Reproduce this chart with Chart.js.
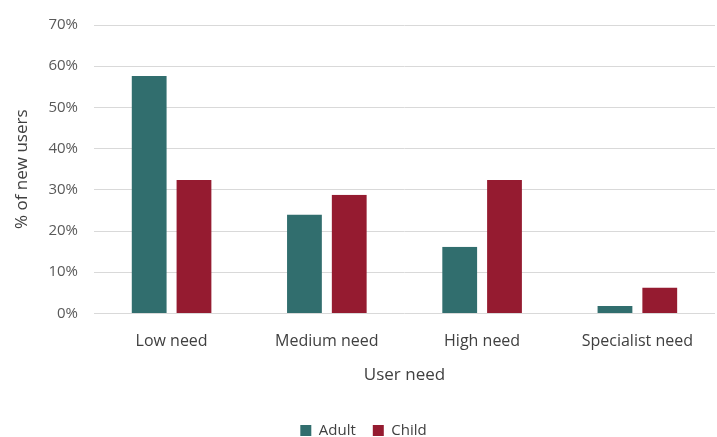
<!DOCTYPE html>
<html>
<head>
<meta charset="utf-8">
<script src="https://cdn.jsdelivr.net/npm/chart.js@4"></script>
<style>
  html, body { margin: 0; padding: 0; background: #fff; }
  #wrap { width: 717px; height: 437px; }
</style>
</head>
<body>
<div id="wrap"><canvas id="grafica_necesidad"></canvas></div>
<script>
const categories = ['Low need', 'Medium need', 'High need', 'Specialist need'];
const adult = [57.6, 24.0, 16.2, 1.8];
const child = [32.4, 28.8, 32.4, 6.3];
const yTicks = [0, 10, 20, 30, 40, 50, 60, 70];

const fontFamily = '"Open Sans", sans-serif';

const ctx = document.getElementById('grafica_necesidad').getContext('2d');
new Chart(ctx, {
  type: 'bar',
  data: {
    labels: categories,
    datasets: [{
      label: 'Adult',
      data: adult,
      backgroundColor: '#316E6E',
      borderColor: 'rgba(0,0,0,0)',
      borderWidth: { left: 5, right: 5, top: 0, bottom: 0 },
      borderSkipped: false
    }, {
      label: 'Child',
      data: child,
      backgroundColor: '#951B30',
      borderColor: 'rgba(0,0,0,0)',
      borderWidth: { left: 5, right: 5, top: 0, bottom: 0 },
      borderSkipped: false
    }]
  },
  options: {
    responsive: true,
    maintainAspectRatio: false,
    animation: false,
    datasets: {
      bar: { barPercentage: 1.0, categoryPercentage: 0.577 }
    },
    layout: { padding: { top: 16, right: 2, left: 12, bottom: -11 } },
    scales: {
      x: {
        grid: { display: false, drawTicks: false },
        border: { display: false },
        ticks: { color: '#404040', font: { family: fontFamily, size: 16 }, padding: 18 },
        title: {
          display: true, text: 'User need', color: '#404040',
          font: { family: fontFamily, size: 17 }, padding: { top: -4, bottom: 21 }
        }
      },
      y: {
        min: 0,
        max: 70,
        afterBuildTicks: axis => { axis.ticks = yTicks.map(v => ({ value: v })); },
        grid: { color: '#D9D9D9', lineWidth: 1, drawTicks: false },
        border: { display: false },
        ticks: {
          color: '#595959', font: { family: fontFamily, size: 15 }, padding: 16,
          callback: v => v + '%'
        },
        title: {
          display: true, text: '% of new users', color: '#404040',
          font: { family: fontFamily, size: 17 }, padding: { top: 0, bottom: 0 }
        }
      }
    },
    plugins: {
      legend: {
        position: 'bottom',
        labels: {
          color: '#404040', font: { family: fontFamily, size: 15 },
          boxWidth: 11, boxHeight: 11, padding: 17
        }
      },
      tooltip: { enabled: false }
    }
  }
});
</script>
</body>
</html>
